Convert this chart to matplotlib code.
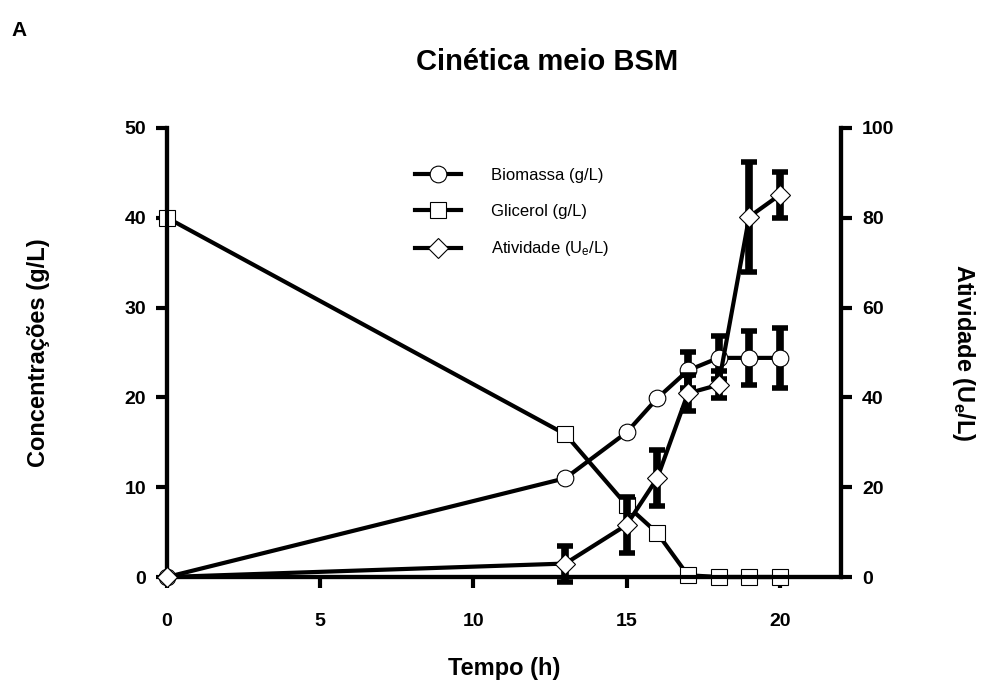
import numpy as np
import matplotlib
matplotlib.use('Agg')
import matplotlib.pyplot as plt

plt.rcParams['font.family'] = ['Liberation Sans', 'DejaVu Sans']
plt.rcParams['mathtext.default'] = 'regular'

# data
tempo = [0, 13, 15, 16, 17, 18, 19, 20]
biomassa = [0.0, 11.0, 16.1, 19.9, 23.0, 24.4, 24.4, 24.4]
biomassa_err = [0, 0, 0, 0, 2.0, 2.4, 3.0, 3.3]
glicerol = [40.0, 15.9, 8.0, 4.9, 0.2, 0.0, 0.0, 0.0]
atividade = [0.0, 3.0, 11.6, 22.0, 40.9, 42.8, 80.2, 85.1]
atividade_err = [0, 4.0, 6.2, 6.2, 4.0, 3.0, 12.2, 5.2]

fig = plt.figure(figsize=(9.86, 6.84), dpi=100)
ax = fig.add_axes([0.1694, 0.1564, 0.6836, 0.6565])
ax2 = ax.twinx()

lw = 3
mk = dict(markersize=12, markerfacecolor='white', markeredgecolor='black',
          markeredgewidth=0.8, clip_on=False)
eb = dict(fmt='none', ecolor='black', elinewidth=5.5, capsize=6, capthick=4,
          clip_on=False)

# biomass
ax.errorbar(tempo, biomassa, yerr=biomassa_err, zorder=2, **eb)
h1, = ax.plot(tempo, biomassa, color='black', lw=lw, marker='o', zorder=3, **mk)
# glycerol
h2, = ax.plot(tempo, glicerol, color='black', lw=lw, marker='s', zorder=3, **mk)
# activity
ax2.errorbar(tempo, atividade, yerr=atividade_err, zorder=2, **eb)
h3, = ax2.plot(tempo, atividade, color='black', lw=lw, marker='D',
               zorder=3, **dict(mk, markersize=10))

ax.set_xlim(0, 22)
ax.set_ylim(0, 50)
ax2.set_ylim(0, 100)
ax.set_xticks([0, 5, 10, 15, 20])
ax.set_yticks([0, 10, 20, 30, 40, 50])
ax2.set_yticks([0, 20, 40, 60, 80, 100])

for a in (ax, ax2):
    a.spines['top'].set_visible(False)
    for s in a.spines.values():
        s.set_linewidth(3)
    a.tick_params(width=3, length=8, labelsize=14)
    for lab in a.get_xticklabels() + a.get_yticklabels():
        lab.set_fontweight('bold')
ax.tick_params(axis='x', pad=18)
ax.tick_params(axis='y', pad=7)
ax2.tick_params(axis='y', pad=7)

ax.set_xlabel('Tempo (h)', fontsize=17, fontweight='bold', va='center')
ax.set_ylabel('Concentrações (g/L)', fontsize=17, fontweight='bold',
              va='center')
ax2.set_ylabel('Atividade (U$_e$/L)', fontsize=17, fontweight='bold',
               rotation=270, va='center')
ax.xaxis.set_label_coords(0.5, -0.203)
ax.yaxis.set_label_coords(-0.19, 0.5)
ax2.yaxis.set_label_coords(1.181, 0.5)

leg = ax2.legend([h1, h2, h3],
                 ['Biomassa (g/L)', 'Glicerol (g/L)', 'Atividade (U$_e$/L)'],
                 loc='upper left', bbox_to_anchor=(0.345, 0.945), frameon=False,
                 fontsize=12, handlelength=2.8, labelspacing=1.25,
                 handletextpad=1.8)

fig.text(0.555, 0.909, 'Cinética meio BSM', fontsize=21, fontweight='bold',
         ha='center', va='center')
fig.text(0.012, 0.955, 'A', fontsize=15, fontweight='bold', ha='left',
         va='center')

fig.savefig('out.png', dpi=100)
